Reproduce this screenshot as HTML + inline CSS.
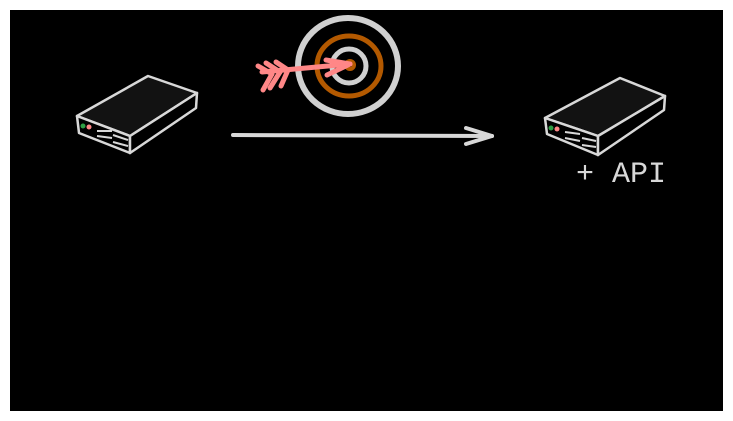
<!DOCTYPE html>
<html><head><style>html,body{margin:0;padding:0;background:#fff;}svg{display:block}</style></head>
<body>
<svg width="733" height="421" viewBox="0 0 733 421" xmlns="http://www.w3.org/2000/svg">
<rect x="0" y="0" width="733" height="421" fill="#fff"/>
<rect x="10" y="10" width="713" height="401" fill="#000"/>
<g stroke="#d8d8d8" stroke-width="2.5" fill="#121212" stroke-linejoin="round">
  <polygon points="77,116 148,76 197,93 130,136"/>
  <polygon points="77,116 130,136 130,153 79,133" fill="#000"/>
  <polygon points="130,136 197,93 196,108 130,153" fill="#000"/>
  <line x1="97" y1="131" x2="112" y2="131" stroke-width="2"/>
  <line x1="97" y1="136" x2="112" y2="138" stroke-width="2"/>
  <line x1="113" y1="135" x2="128" y2="140" stroke-width="2"/>
  <line x1="113" y1="142" x2="128" y2="146" stroke-width="2"/>
</g>
<circle cx="83" cy="126" r="2.5" fill="#2f9e44"/><circle cx="89" cy="127" r="2.5" fill="#ff8787"/>
<g stroke="#d8d8d8" stroke-width="2.5" fill="#121212" stroke-linejoin="round">
  <polygon points="545,118 620,78 665,96 598,136"/>
  <polygon points="545,118 598,136 598,155 547,134" fill="#000"/>
  <polygon points="598,136 665,96 664,110 598,155" fill="#000"/>
  <line x1="565" y1="132" x2="580" y2="134" stroke-width="2"/>
  <line x1="565" y1="138" x2="580" y2="141" stroke-width="2"/>
  <line x1="582" y1="138" x2="596" y2="141" stroke-width="2"/>
  <line x1="582" y1="145" x2="596" y2="147" stroke-width="2"/>
</g>
<circle cx="551" cy="128" r="2.5" fill="#2f9e44"/><circle cx="557" cy="129" r="2.5" fill="#ff8787"/>
<text x="576" y="182" font-family="Liberation Mono, monospace" font-size="30" fill="#d8d8d8">+ API</text>
<g fill="none" stroke-linecap="round">
  <ellipse cx="348" cy="66" rx="50" ry="48" stroke="#d0d0d0" stroke-width="6"/>
  <ellipse cx="349" cy="66" rx="32" ry="30" stroke="#b35900" stroke-width="5"/>
  <ellipse cx="349" cy="66" rx="17" ry="17" stroke="#d0d0d0" stroke-width="5"/>
  <circle cx="350" cy="65" r="4" stroke="#b35900" stroke-width="4"/>
  <g stroke="#ff8787" stroke-width="5">
    <line x1="262" y1="72" x2="350" y2="64"/>
    <line x1="326" y1="60" x2="350" y2="64"/>
    <line x1="327" y1="75" x2="350" y2="64"/>
    <line x1="258" y1="66" x2="272" y2="74"/>
    <line x1="266" y1="63" x2="280" y2="72"/>
    <line x1="276" y1="62" x2="288" y2="70"/>
    <line x1="263" y1="90" x2="272" y2="74"/>
    <line x1="270" y1="88" x2="280" y2="72"/>
    <line x1="281" y1="86" x2="288" y2="70"/>
  </g>
  <g stroke="#d8d8d8" stroke-width="4">
    <line x1="233" y1="135" x2="492" y2="136"/>
    <line x1="466" y1="128" x2="492" y2="136"/>
    <line x1="466" y1="144" x2="492" y2="136"/>
  </g>
</g>
</svg>
</body></html>
